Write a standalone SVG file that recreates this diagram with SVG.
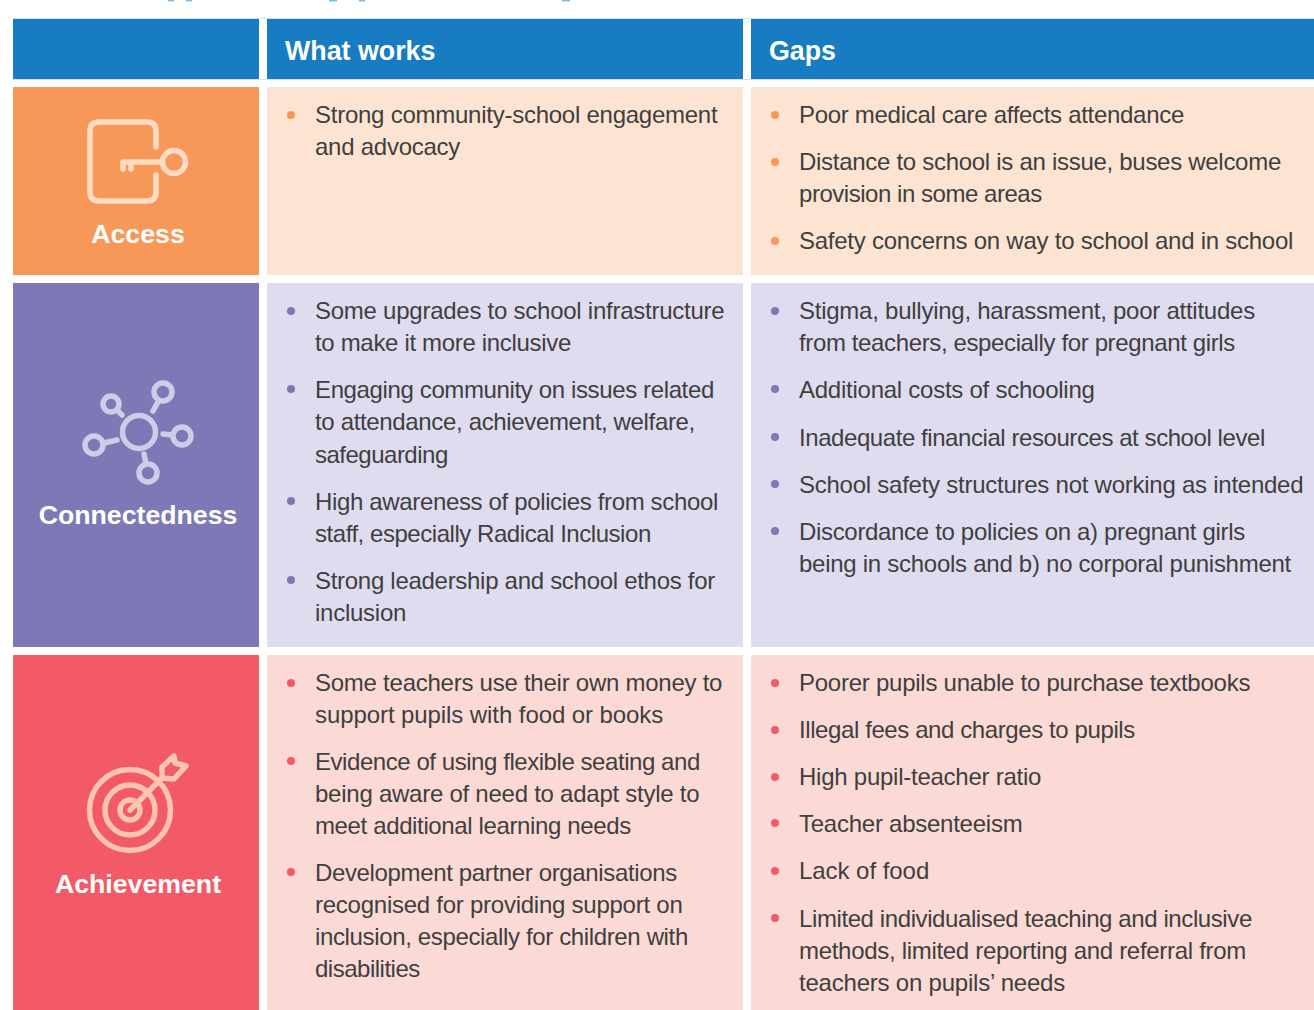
<svg xmlns="http://www.w3.org/2000/svg" width="1314" height="1010" viewBox="0 0 1314 1010">
<style>
text{font-family:"Liberation Sans",Arial,sans-serif}
.b{font-size:24px;fill:#403f3f;letter-spacing:-.25px;transform:translateY(-.6px)}
.h{font-size:26.8px;font-weight:700;fill:#fff}
.l{font-size:26.7px;font-weight:700;fill:#fff;text-anchor:middle}
.i{fill:none;stroke-width:5.500px;stroke-linecap:round;stroke-linejoin:round}
.e{stroke:#d3e5f3;stroke-width:1px}
</style>
<rect width="1314" height="1010" fill="#fff"/>
<g id="heading-clip" fill="#7fbde8"><rect x="168" y="0" width="6" height="1.500"/><rect x="186" y="0" width="6" height="1.500"/><rect x="329" y="0" width="8" height="1.500"/><rect x="359" y="0" width="6" height="1.500"/><rect x="562" y="0" width="8" height="1.500"/></g>
<g id="header"><path class="e" d="M13 18.500H1314M13 79.500H1314"/><rect x="13" y="19" width="246" height="60" fill="#187cc2"/><rect x="267" y="19" width="476" height="60" fill="#187cc2"/><rect x="751" y="19" width="563" height="60" fill="#187cc2"/>
<text class="h" x="285" y="60">What works</text><text class="h" x="769" y="60">Gaps</text></g>
<g id="access"><rect x="13" y="87" width="246" height="188" fill="#f79758"/><rect x="267" y="87" width="476" height="188" fill="#fde4d2"/><rect x="751" y="87" width="563" height="188" fill="#fde4d2"/>
<g class="i" stroke="#fedcc4"><path d="M156 147V131Q156 122 147 122H99Q90 122 90 131V192Q90 201 99 201H147Q156 201 156 192V175"/><circle cx="174" cy="162" r="11.500"/><path d="M162 162H123V169M131 162V169"/></g>
<text class="l" x="138" y="243">Access</text>
<g fill="#f79758"><circle cx="291" cy="115" r="4"/><circle cx="775" cy="115" r="4"/><circle cx="775" cy="162" r="4"/><circle cx="775" cy="241" r="4"/></g>
<text class="b" x="315" y="124">Strong community-school engagement</text><text class="b" x="315" y="156">and advocacy</text>
<text class="b" x="799" y="124" textLength="385">Poor medical care affects attendance</text><text class="b" x="799" y="171" textLength="482">Distance to school is an issue, buses welcome</text><text class="b" x="799" y="203" textLength="243">provision in some areas</text><text class="b" x="799" y="250">Safety concerns on way to school and in school</text></g>
<g id="connectedness"><rect x="13" y="283" width="246" height="364" fill="#7e78b7"/><rect x="267" y="283" width="476" height="364" fill="#dfdcef"/><rect x="751" y="283" width="563" height="364" fill="#dfdcef"/>
<g class="i" stroke="#cfcde6"><circle cx="139" cy="432" r="16.500"/><circle cx="163" cy="392" r="9"/><circle cx="111" cy="404" r="8"/><circle cx="182" cy="436" r="9"/><circle cx="94" cy="445" r="9"/><circle cx="148" cy="473" r="9"/><path d="M158 402 153 411M119 412 122 415M172 435 163 434M104 443 117 440M146 464 144 454"/></g>
<text class="l" x="138" y="524">Connectedness</text>
<g fill="#7e78b7"><circle cx="291" cy="311" r="4"/><circle cx="291" cy="389" r="4"/><circle cx="291" cy="501" r="4"/><circle cx="291" cy="580" r="4"/><circle cx="775" cy="311" r="4"/><circle cx="775" cy="389" r="4"/><circle cx="775" cy="437" r="4"/><circle cx="775" cy="484" r="4"/><circle cx="775" cy="531" r="4"/></g>
<text class="b" x="315" y="320">Some upgrades to school infrastructure</text><text class="b" x="315" y="352" textLength="256">to make it more inclusive</text><text class="b" x="315" y="399" textLength="399">Engaging community on issues related</text><text class="b" x="315" y="431" textLength="380">to attendance, achievement, welfare,</text><text class="b" x="315" y="464" textLength="133">safeguarding</text><text class="b" x="315" y="511" textLength="403">High awareness of policies from school</text><text class="b" x="315" y="543" textLength="336">staff, especially Radical Inclusion</text><text class="b" x="315" y="590" textLength="400">Strong leadership and school ethos for</text><text class="b" x="315" y="622">inclusion</text>
<text class="b" x="799" y="320">Stigma, bullying, harassment, poor attitudes</text><text class="b" x="799" y="352" textLength="436">from teachers, especially for pregnant girls</text><text class="b" x="799" y="399">Additional costs of schooling</text><text class="b" x="799" y="447" textLength="466">Inadequate financial resources at school level</text><text class="b" x="799" y="494">School safety structures not working as intended</text><text class="b" x="799" y="541" textLength="446">Discordance to policies on a) pregnant girls</text><text class="b" x="799" y="573" textLength="492">being in schools and b) no corporal punishment</text></g>
<g id="achievement"><rect x="13" y="655" width="246" height="355" fill="#f15a66"/><rect x="267" y="655" width="476" height="355" fill="#fbdad6"/><rect x="751" y="655" width="563" height="355" fill="#fbdad6"/>
<g class="i" stroke="#fdc4ae"><circle cx="130" cy="810" r="40.500"/><circle cx="130" cy="810" r="25"/><circle cx="130" cy="810" r="10"/><path d="M130 810 162 778M162 778 162 767 174 756 175 763 186 766 174 779Z"/></g>
<text class="l" x="138" y="893">Achievement</text>
<g fill="#f15a66"><circle cx="291" cy="683" r="4"/><circle cx="291" cy="761" r="4"/><circle cx="291" cy="872" r="4"/><circle cx="775" cy="683" r="4"/><circle cx="775" cy="730" r="4"/><circle cx="775" cy="777" r="4"/><circle cx="775" cy="823" r="4"/><circle cx="775" cy="871" r="4"/><circle cx="775" cy="918" r="4"/></g>
<text class="b" x="315" y="692">Some teachers use their own money to</text><text class="b" x="315" y="724" textLength="348">support pupils with food or books</text><text class="b" x="315" y="771" textLength="385">Evidence of using flexible seating and</text><text class="b" x="315" y="803">being aware of need to adapt style to</text><text class="b" x="315" y="835" textLength="316">meet additional learning needs</text><text class="b" x="315" y="882" textLength="362">Development partner organisations</text><text class="b" x="315" y="914">recognised for providing support on</text><text class="b" x="315" y="946" textLength="373">inclusion, especially for children with</text><text class="b" x="315" y="978" textLength="105">disabilities</text>
<text class="b" x="799" y="692">Poorer pupils unable to purchase textbooks</text><text class="b" x="799" y="739" textLength="336">Illegal fees and charges to pupils</text><text class="b" x="799" y="786">High pupil-teacher ratio</text><text class="b" x="799" y="833">Teacher absenteeism</text><text class="b" x="799" y="880" textLength="130">Lack of food</text><text class="b" x="799" y="928" textLength="453">Limited individualised teaching and inclusive</text><text class="b" x="799" y="960" textLength="447">methods, limited reporting and referral from</text><text class="b" x="799" y="992" textLength="266">teachers on pupils’ needs</text></g>
</svg>
